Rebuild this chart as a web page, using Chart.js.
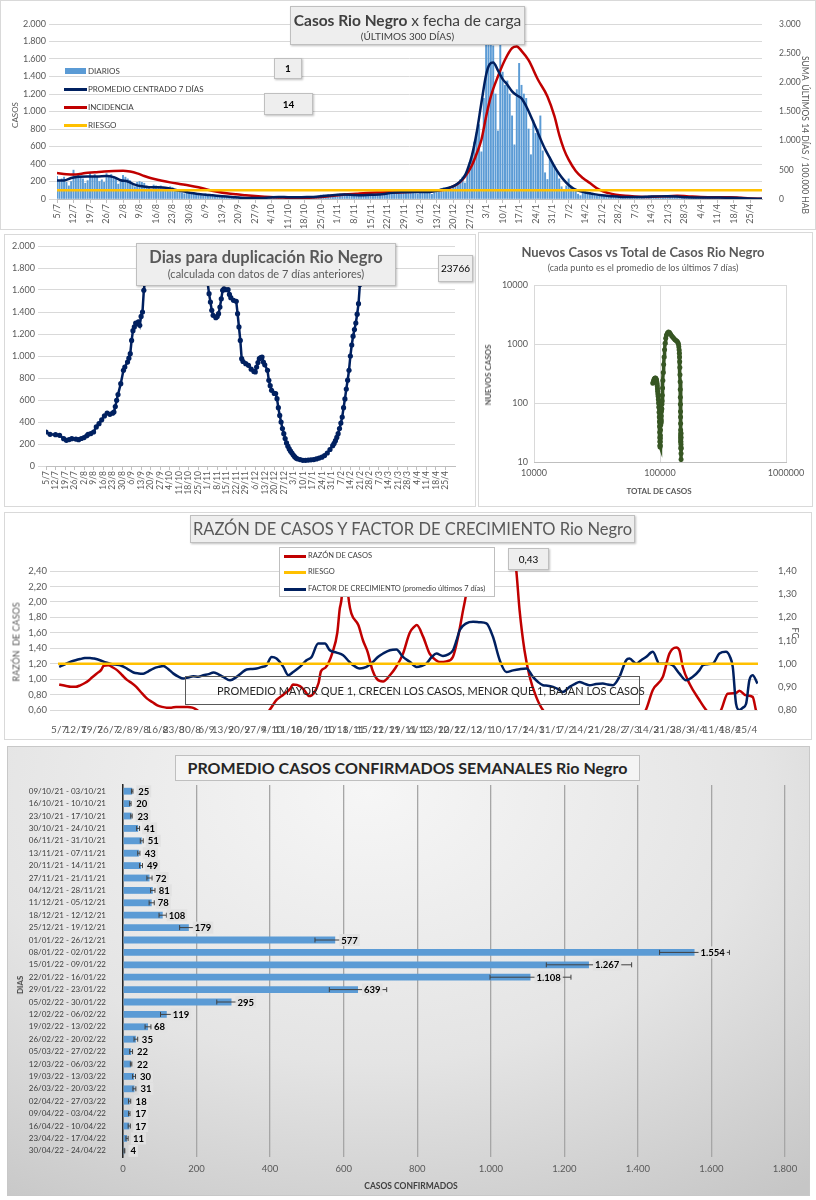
<!DOCTYPE html>
<html>
<head>
<meta charset="utf-8">
<script src="https://cdn.jsdelivr.net/npm/chart.js@4.4.1/dist/chart.umd.min.js"></script>
<style>
body{margin:0;background:#fff;font-family:Lato,"Liberation Sans",sans-serif;}
#page{position:relative;width:816px;height:1200px;overflow:hidden;}
canvas{position:absolute;}
.panel{position:absolute;border:1px solid #d9d9d9;box-sizing:border-box;}
.box{position:absolute;background:#eeeeee;border:1px solid #bfbfbf;box-sizing:border-box;text-align:center;color:#404040;box-shadow:1px 1px 2px rgba(0,0,0,.25);white-space:nowrap;overflow:hidden;}
.t{position:absolute;white-space:nowrap;}
.ctr{transform:translate(-50%,-50%);}
.vup{position:absolute;writing-mode:vertical-rl;white-space:nowrap;transform:translate(-50%,-50%) rotate(180deg);}
.vdown{position:absolute;writing-mode:vertical-rl;white-space:nowrap;transform:translate(-50%,-50%);}
.sw{position:absolute;height:3px;}
</style>
</head>
<body>
<div id="page">

<!-- panel 1 -->
<div class="panel" style="left:0;top:0;width:816px;height:230px;"></div>
<canvas id="c1" width="816" height="230" style="left:0;top:0"></canvas>
<div class="box" style="left:290px;top:6px;width:235px;height:39px;">
  <div style="font-size:15.5px;margin-top:4px;"><b>Casos Rio Negro</b> x fecha de carga</div>
  <div style="font-size:10px;margin-top:1px;">(ÚLTIMOS 300 DÍAS)</div>
</div>
<div class="box" style="left:274px;top:58px;width:28px;height:21px;font-size:10px;font-weight:bold;line-height:19px;color:#000">1</div>
<div class="box" style="left:264px;top:93px;width:49px;height:22px;font-size:10px;font-weight:bold;line-height:20px;color:#000">14</div>
<div class="sw" style="left:65px;top:68px;width:21px;height:6px;background:#5b9bd5"></div>
<div class="t" style="left:88px;top:66px;font-size:8px;color:#404040">DIARIOS</div>
<div class="sw" style="left:64px;top:88px;width:23px;background:#002060"></div>
<div class="t" style="left:88px;top:84px;font-size:8px;color:#404040">PROMEDIO CENTRADO 7 DÍAS</div>
<div class="sw" style="left:64px;top:106px;width:23px;background:#c00000"></div>
<div class="t" style="left:88px;top:102px;font-size:8px;color:#404040">INCIDENCIA</div>
<div class="sw" style="left:64px;top:124px;width:23px;background:#ffc000"></div>
<div class="t" style="left:88px;top:120px;font-size:8px;color:#404040">RIESGO</div>
<div class="vup" style="left:15px;top:115px;font-size:8px;color:#595959">CASOS</div>
<div class="vdown" style="left:805px;top:135px;font-size:8.5px;color:#595959">SUMA&nbsp; ÚLTIMOS 14 DÍAS / 100.000 HAB</div>

<!-- panel 2 -->
<div class="panel" style="left:4px;top:234px;width:472px;height:273px;"></div>
<canvas id="c2" width="478" height="275" style="left:0;top:232px"></canvas>
<div class="box" style="left:136px;top:243px;width:260px;height:43px;">
  <div style="font-size:16.5px;font-weight:bold;color:#595959;margin-top:3px;">Dias para duplicación Rio Negro</div>
  <div style="font-size:11px;color:#595959;">(calculada con datos de 7 días anteriores)</div>
</div>
<div class="box" style="left:438px;top:255px;width:35px;height:27px;font-size:10px;line-height:25px;color:#000">23766</div>

<!-- panel 3 -->
<div class="panel" style="left:478px;top:232px;width:335px;height:275px;"></div>
<canvas id="c3" width="338" height="275" style="left:478px;top:232px"></canvas>
<div class="t ctr" style="left:643px;top:252px;font-size:13px;font-weight:bold;color:#595959">Nuevos Casos vs Total de Casos Rio Negro</div>
<div class="t ctr" style="left:643px;top:267px;font-size:9px;color:#595959">(cada punto es el promedio de los últimos 7 días)</div>
<div class="vup" style="left:488px;top:375px;font-size:8px;font-weight:bold;color:#595959">NUEVOS CASOS</div>
<div class="t ctr" style="left:659px;top:491px;font-size:8px;font-weight:bold;color:#595959">TOTAL DE CASOS</div>

<!-- panel 4 -->
<div class="panel" style="left:4px;top:512px;width:808px;height:228px;"></div>
<canvas id="c4" width="816" height="228" style="left:0;top:512px"></canvas>
<div class="box" style="left:190px;top:515px;width:445px;height:28px;font-size:16.5px;line-height:26px;color:#595959">RAZÓN DE CASOS Y FACTOR DE CRECIMIENTO Rio Negro</div>
<div class="box" style="left:279px;top:547px;width:216px;height:50px;background:#fff;box-shadow:none;"></div>
<div class="sw" style="left:284px;top:555px;width:22px;background:#c00000"></div>
<div class="t" style="left:308px;top:551px;font-size:7.5px;color:#404040">RAZÓN DE CASOS</div>
<div class="sw" style="left:284px;top:571px;width:22px;background:#ffc000"></div>
<div class="t" style="left:308px;top:567px;font-size:7.5px;color:#404040">RIESGO</div>
<div class="sw" style="left:284px;top:588px;width:22px;background:#002060"></div>
<div class="t" style="left:308px;top:584px;font-size:7.5px;color:#404040">FACTOR DE CRECIMIENTO (promedio últimos 7 días)</div>
<div class="box" style="left:508px;top:548px;width:41px;height:22px;font-size:10px;line-height:20px;color:#000">0,43</div>
<div class="t" style="left:185px;top:676px;width:455px;height:29px;border:1px solid #595959;box-sizing:border-box;font-size:11px;line-height:27px;color:#262626;padding-left:31px;">PROMEDIO MAYOR QUE 1, CRECEN LOS CASOS, MENOR QUE 1, BAJAN LOS CASOS</div>
<div class="vup" style="left:16px;top:642px;font-size:9px;font-weight:normal;color:#595959">RAZÓN&nbsp; DE CASOS</div>
<div class="vdown" style="left:795px;top:633px;font-size:9px;color:#595959">FC</div>

<!-- panel 5 -->
<div class="panel" style="left:7px;top:746px;width:803px;height:450px;border-color:#c8c8c8;background:radial-gradient(ellipse 90% 110% at 45% 10%, #f6f6f6 0%, #e4e4e4 55%, #c6c6c6 100%);"></div>
<canvas id="c5" width="803" height="450" style="left:7px;top:746px"></canvas>
<div class="box" style="left:175px;top:755px;width:465px;height:26px;font-size:16px;font-weight:bold;line-height:24px;color:#262626;background:#f4f4f4;box-shadow:none">PROMEDIO CASOS CONFIRMADOS SEMANALES Rio Negro</div>
<div class="vup" style="left:20px;top:985px;font-size:8px;font-weight:bold;color:#404040">DIAS</div>
<div class="t ctr" style="left:411px;top:1186px;font-size:8.5px;font-weight:bold;color:#404040">CASOS CONFIRMADOS</div>

</div>
<script>
// etiquetas semanales del eje de fechas (dia 0 = 5/7)
var etiquetasSemana = ['5/7','12/7','19/7','26/7','2/8','9/8','16/8','23/8','30/8','6/9','13/9','20/9','27/9','4/10','11/10','18/10','25/10','1/11','8/11','15/11','22/11','29/11','6/12','13/12','20/12','27/12','3/1','10/1','17/1','24/1','31/1','7/2','14/2','21/2','28/2','7/3','14/3','21/3','28/3','4/4','11/4','18/4','25/4'];

// casos diarios (300 dias desde 5/7)
var casosDiarios = [
  260,210,230,250,190,150,200,330,260,270,
  250,230,180,210,300,260,280,250,200,220,
  190,290,270,280,260,230,170,200,270,250,
  230,210,170,140,190,200,190,180,150,120,
  110,160,150,140,150,130,100,90,140,130,
  110,100,90,70,60,90,80,75,70,60,
  55,40,35,60,55,50,45,40,30,25,
  35,35,30,28,25,18,15,25,22,20,
  20,18,12,10,18,20,18,16,15,12,
  15,28,30,28,30,25,19,
  12,22,24,22,20,24,16,
  15,25,26,24,28,25,18,
  25,45,48,44,50,42,33,
  35,55,58,56,60,52,41,
  30,45,48,46,50,47,35,
  35,52,55,54,58,50,39,
  50,78,80,82,85,70,59,
  60,88,90,92,95,80,62,
  58,85,88,90,92,80,53,
  70,100,110,120,130,125,101,
  110,140,160,190,220,250,183,
  300,420,520,650,760,850,539,
  1150,2050,1850,2100,1750,1200,778,
  2000,1450,1300,1350,1200,950,619,
  1250,1550,1300,1200,1150,800,506,
  900,750,800,950,550,300,223,
  480,420,380,320,230,140,95,
  150,230,140,120,100,55,38,
  90,85,80,75,65,45,36,
  45,42,40,38,35,25,20,
  30,28,25,24,22,14,11,
  28,27,26,25,24,14,10,
  38,36,34,33,32,20,17,
  40,38,35,34,32,22,16,
  24,22,21,20,18,12,9,
  22,21,20,19,18,11,8,
  23,20,20,18,17,12,9,
  15,14,13,12,11,7,5,
  8,6,5,4,3,1,1
];

// promedio centrado 7 dias [dia, casos]
var promedio7 = [[0,210],[3,212],[6,240],[9,255],[13,258],[17,256],[21,262],[24,250],[27,215],[30,200],[33,165],[36,145],[39,135],[42,133],[45,132],[48,118],[51,100],[54,85],[57,68],[60,58],[63,49],[66,42],[70,32],[74,24],[78,14],[82,12],[86,12],[90,18],[94,24],[98,21],[102,20],[106,22],[110,26],[114,38],[118,46],[122,52],[126,46],[130,44],[134,48],[138,55],[142,70],[146,78],[150,81],[154,79],[158,80],[161,95],[164,112],[167,135],[169,160],[171,200],[173,270],[174,330],[176,500],[178,760],[180,1100],[182,1420],[183.5,1540],[185,1560],[187,1470],[189,1370],[191,1306],[193,1230],[195,1185],[197,1150],[199,1060],[201,944],[203,820],[205,690],[207,570],[209,469],[211,370],[213,285],[215,215],[217,160],[219,120],[221,95],[224,75],[227,60],[231,42],[235,32],[239,24],[243,22],[247,22],[251,26],[255,30],[259,31],[263,28],[267,20],[271,18],[276,17],[281,17],[285,14],[289,11],[293,7],[297,4],[299,3]];

// incidencia: suma ultimos 14 dias / 100.000 hab [dia, valor]
var incidencia14 = [[0,446],[4,425],[8,420],[12,445],[16,458],[20,473],[24,482],[28,485],[31,470],[34,440],[37,395],[40,355],[44,318],[48,285],[52,258],[56,232],[60,200],[64,160],[68,125],[72,98],[76,80],[80,66],[84,52],[88,40],[92,30],[96,24],[99,16],[101,6],[103,14],[107,22],[112,34],[117,57],[122,78],[127,92],[131,103],[136,110],[141,114],[145,113],[150,122],[155,132],[160,145],[164,160],[168,216],[170,262],[172,331],[174,440],[176,580],[178,780],[180,1016],[182,1416],[184,1759],[187,2101],[190,2388],[193,2588],[195,2616],[197,2540],[200,2380],[204,2045],[208,1759],[211,1416],[213,1100],[215,850],[217,674],[220,480],[223,360],[226,274],[230,159],[234,100],[237,74],[241,55],[245,44],[251,36],[257,45],[263,55],[267,48],[273,34],[280,30],[285,32],[290,20],[294,10],[299,5]];
var riesgoIncidencia = 150;

// dias para duplicacion [dia, dias]
var diasDuplicacion = [[0,309],[3,288],[7,285],[10,279],[13,248],[15,233],[17,240],[19,248],[22,245],[24,239],[26,250],[28,258],[30,275],[31,288],[33,295],[35,309],[37,355],[39,385],[41,420],[43,455],[45,482],[47,470],[49,480],[50,491],[51,540],[52,597],[53,650],[55,748],[57,870],[58,900],[60,945],[61,980],[62,1021],[63,1142],[64,1230],[65,1264],[66,1300],[67,1294],[68,1310],[69,1279],[70,1360],[71,1400],[72,1597],[73,1700],[74,1839],[76,2600],[80,4000],[90,6000],[105,5000],[114,3000],[117,2200],[118,1800],[119,1660],[120,1567],[121,1491],[122,1415],[123,1370],[125,1348],[126,1360],[127,1385],[128,1445],[129,1520],[130,1597],[131,1610],[132,1603],[134,1603],[135,1560],[136,1530],[138,1506],[140,1497],[141,1385],[142,1264],[143,1142],[144,976],[145,950],[147,930],[149,915],[151,880],[153,860],[154,855],[155,900],[156,940],[157,976],[158,985],[159,991],[160,945],[161,920],[163,870],[164,779],[165,730],[166,688],[168,660],[169,658],[170,612],[171,530],[172,460],[173,400],[174,340],[175,294],[176,250],[177,210],[178,180],[179,155],[180,135],[181,118],[182,100],[183,85],[184,72],[185,65],[187,58],[189,52],[191,52],[193,54],[195,56],[197,58],[199,64],[201,72],[203,80],[205,95],[207,118],[209,150],[211,185],[212,205],[213,230],[214,260],[215,294],[216,340],[217,390],[218,445],[219,530],[220,610],[221,700],[222,780],[223,870],[224,1000],[225,1100],[226,1180],[227,1240],[228,1300],[229,1380],[230,1476],[231,1650],[232,1900],[233,2300],[236,4000],[250,9000],[270,15000],[299,23766]];

// nuevos casos vs total de casos
var totalCasos = [87700,88300,89000,89700,90400,91100,91800,92500,93200,93800,94300,94700,95100,95500,95900,96300,96700,97100,97500,97900,98300,98700,99000,99300,99500,99700,99850,100000,100100,100250,100400,100550,100700,100900,101100,101300,101500,101700,101900,102100,102350,102600,102850,103100,103350,103600,103900,104300,104800,105400,106100,106900,107800,108700,109800,111000,112500,114500,116700,119000,121500,124000,126500,129000,131500,134000,136500,138500,140000,141000,141800,142400,142900,143300,143700,144100,144500,144800,145050,145250,145450,145600,145750,145850,145950,146050,146150,146250,146350,146450,146550,146650,146700,146760,146820,146880,146930,146970];
var nuevosCasos = [217,225,238,250,258,262,265,262,255,245,230,215,195,175,158,142,130,115,100,85,70,58,48,40,32,26,22,19,18,19,22,25,28,35,42,50,48,45,48,52,60,72,80,80,79,95,108,135,179,240,330,450,600,800,1025,1250,1420,1540,1600,1560,1470,1370,1300,1240,1180,1150,1110,1060,1000,900,800,700,600,500,400,300,230,170,125,95,72,58,45,35,28,24,22,22,26,30,31,26,20,18,17,17,14,11];
var ticksTotal = [10000, 100000, 1000000];
var ticksNuevos = [10, 100, 1000, 10000];

// razon de casos y factor de crecimiento [dia, valor]
var razonCasos = [[0,0.93],[3,0.91],[5,0.90],[7,0.90],[9,0.92],[11,0.95],[12.5,0.98],[14,1.02],[16,1.07],[18,1.12],[19,1.17],[21,1.18],[23,1.15],[25,1.11],[27,1.05],[29,0.99],[31,0.95],[33,0.90],[35,0.83],[37.5,0.75],[40,0.70],[42,0.66],[44,0.64],[46,0.63],[48,0.63],[50,0.64],[52,0.64],[55,0.64],[57,0.63],[59,0.60],[62,0.52],[70,0.45],[80,0.48],[88,0.55],[90,0.60],[93,0.73],[96,0.80],[99,0.88],[100,0.93],[103,0.91],[105,0.85],[107,0.78],[109,0.82],[111,0.95],[112,1.10],[114,1.15],[117,1.35],[119,1.60],[120,1.90],[121,2.10],[122,2.8],[123,2.3],[124,2.0],[125,1.85],[128,1.70],[130,1.50],[132,1.35],[134,1.12],[136,1.00],[138.6,0.97],[141.5,1.05],[144,1.15],[147,1.32],[150,1.6],[152,1.68],[153,1.70],[155.7,1.55],[158.5,1.33],[161.4,1.24],[162.8,1.22],[165.7,1.23],[168.5,1.29],[170.7,1.55],[172.8,1.89],[174.2,2.11],[175.6,2.4],[180,3.5],[186,4.0],[192,3.2],[195.6,2.4],[197,1.89],[199.1,1.37],[201.3,1.03],[204.1,0.77],[207,0.60],[212,0.5],[230,0.45],[248,0.5],[251,0.6],[254,0.86],[258.3,1.03],[261.1,1.33],[264,1.41],[265.4,1.37],[266.8,1.16],[269.7,0.94],[273.9,0.73],[276.8,0.60],[280,0.5],[283.2,0.6],[286,0.81],[289.6,0.82],[291,0.85],[293.9,0.79],[296.7,0.77],[298.1,0.6],[299,0.5]];
var factorCrecimiento = [[0,0.986],[2,0.995],[4.7,1.008],[7,1.015],[9,1.02],[11,1.024],[13.2,1.025],[15,1.022],[17.5,1.015],[20,1.005],[21.8,1.0],[24,0.996],[26.1,0.993],[29,0.979],[31.8,0.962],[34,0.958],[36,0.957],[38,0.966],[40.3,0.979],[42.5,0.986],[44.6,0.99],[46.5,0.978],[48.9,0.957],[51,0.944],[53.1,0.936],[55,0.94],[57.4,0.946],[59.5,0.944],[61.7,0.95],[64,0.955],[66,0.962],[68,0.955],[70.2,0.943],[73.1,0.928],[75.9,0.943],[78,0.96],[80.2,0.975],[82.5,0.977],[84.5,0.979],[86.5,0.985],[88.7,0.993],[90.9,1.029],[93,1.022],[95.9,0.986],[98,0.95],[100.1,0.964],[103,0.986],[105.8,1.015],[108,1.029],[110.8,1.087],[113.7,1.087],[115.8,1.058],[118.7,1.048],[121.5,1.036],[124,1.01],[125.8,0.993],[128.6,0.979],[131.5,0.986],[134.3,1.008],[136.5,1.03],[138.6,1.044],[141.5,1.058],[144.3,1.061],[147.1,1.029],[150,1.008],[152.9,0.986],[155,0.99],[157.1,1.0],[159.5,1.03],[161.4,1.044],[164.2,1.033],[166.5,1.04],[168.5,1.058],[170,1.1],[171.4,1.145],[174.2,1.174],[177.1,1.181],[180,1.179],[182.8,1.174],[185.6,1.116],[188.5,1.015],[191.3,0.964],[194.2,0.971],[197,0.976],[199.9,0.979],[202.7,0.943],[205,0.92],[207,0.907],[209,0.905],[211.3,0.9],[213.5,0.89],[215.5,0.878],[218.4,0.9],[220.5,0.912],[222.6,0.921],[224.7,0.914],[226.9,0.907],[229.7,0.912],[232.6,0.914],[234.7,0.91],[236.9,0.907],[239.7,0.943],[242.6,1.015],[244,1.022],[246.9,1.0],[249,1.015],[251.1,1.029],[254,1.051],[256.8,1.0],[259.7,1.0],[262.5,0.993],[265.4,0.957],[268.2,0.928],[271.1,0.943],[273.9,0.971],[275.4,0.993],[277.5,0.998],[279.6,1.0],[282.5,1.044],[285.3,1.051],[287,1.03],[288.2,0.986],[289.6,0.827],[291,0.8],[292.5,0.81],[293.9,0.827],[295.3,0.928],[296.7,0.95],[298.8,0.914]];
var riesgoRazon = 1.2;

// promedio semanal de casos confirmados
var semanas = ['09/10/21 - 03/10/21','16/10/21 - 10/10/21','23/10/21 - 17/10/21','30/10/21 - 24/10/21','06/11/21 - 31/10/21','13/11/21 - 07/11/21','20/11/21 - 14/11/21','27/11/21 - 21/11/21','04/12/21 - 28/11/21','11/12/21 - 05/12/21','18/12/21 - 12/12/21','25/12/21 - 19/12/21','01/01/22 - 26/12/21','08/01/22 - 02/01/22','15/01/22 - 09/01/22','22/01/22 - 16/01/22','29/01/22 - 23/01/22','05/02/22 - 30/01/22','12/02/22 - 06/02/22','19/02/22 - 13/02/22','26/02/22 - 20/02/22','05/03/22 - 27/02/22','12/03/22 - 06/03/22','19/03/22 - 13/03/22','26/03/22 - 20/03/22','02/04/22 - 27/03/22','09/04/22 - 03/04/22','16/04/22 - 10/04/22','23/04/22 - 17/04/22','30/04/22 - 24/04/22'];
var promedioSemanal = [25,20,23,41,51,43,49,72,81,78,108,179,577,1554,1267,1108,639,295,119,68,35,22,22,30,31,18,17,17,11,4];
var errorSemanal = [2,2,2,4,4,3,4,7,6,7,10,25,55,95,116,110,78,40,17,8,5,4,2,4,4,3,2,3,3,1];

function fmtMiles(v) {
  return String(v).replace(/\B(?=(\d{3})+(?!\d))/g, '.');
}
function fmtDec(v) {
  return v.toFixed(2).replace('.', ',');
}
function pares(arr) {
  return arr.map(function (p) { return {x: p[0], y: p[1]}; });
}

Chart.defaults.font.family = 'Lato, "Liberation Sans", sans-serif';
Chart.defaults.color = '#595959';
Chart.defaults.animation = false;
Chart.defaults.plugins.legend.display = false;
Chart.defaults.plugins.tooltip.enabled = false;

// 1) casos diarios, promedio e incidencia
new Chart(document.getElementById('c1'), {
  type: 'bar',
  data: {
    datasets: [
      {type: 'line', data: [{x: 0, y: riesgoIncidencia}, {x: 299, y: riesgoIncidencia}], yAxisID: 'y1',
       borderColor: '#ffc000', borderWidth: 2.5, pointRadius: 0, order: 1},
      {type: 'line', data: pares(promedio7), borderColor: '#002060', borderWidth: 2.5, pointRadius: 0,
       cubicInterpolationMode: 'monotone', order: 2},
      {type: 'line', data: pares(incidencia14), yAxisID: 'y1', borderColor: '#c00000', borderWidth: 2.5,
       pointRadius: 0, cubicInterpolationMode: 'monotone', order: 3},
      {type: 'bar', data: casosDiarios.map(function (v, i) { return {x: i, y: v}; }),
       backgroundColor: '#5b9bd5', barThickness: 1.3, order: 4}
    ]
  },
  options: {
    responsive: false,
    layout: {padding: {top: 24, right: 0, left: 0, bottom: 0}},
    scales: {
      x: {type: 'linear', min: 0, max: 299, offset: false,
          grid: {offset: false, drawOnChartArea: false, tickLength: 4, color: '#bfbfbf'},
          border: {color: '#bfbfbf'},
          ticks: {stepSize: 7, includeBounds: false, autoSkip: false, minRotation: 90, maxRotation: 90,
                  padding: 1, font: {size: 9}, callback: function (v) { return etiquetasSemana[v / 7]; }},
          afterFit: function (s) { s.height = 31; }},
      y: {min: 0, max: 2000, ticks: {stepSize: 200, font: {size: 9}, callback: fmtMiles},
          grid: {color: '#d9d9d9'}, border: {display: false},
          afterFit: function (s) { s.width = 57; }},
      y1: {position: 'right', min: 0, max: 3000, ticks: {stepSize: 500, font: {size: 8.5}, padding: 9, callback: fmtMiles},
           grid: {display: false}, border: {display: false},
           afterFit: function (s) { s.width = 54; }}
    }
  }
});

// 2) dias para duplicacion
new Chart(document.getElementById('c2'), {
  type: 'line',
  data: {
    datasets: [
      {data: pares(diasDuplicacion), borderColor: '#002060', backgroundColor: '#002060', borderWidth: 2.5,
       pointRadius: 2.6, pointBorderWidth: 0}
    ]
  },
  options: {
    responsive: false,
    layout: {padding: {top: 14, right: 23, left: 0, bottom: 0}},
    scales: {
      x: {type: 'linear', min: 0, max: 301,
          grid: {drawOnChartArea: false, tickLength: 4, color: '#bfbfbf'}, border: {color: '#bfbfbf'},
          ticks: {stepSize: 7, includeBounds: false, autoSkip: false, minRotation: 90, maxRotation: 90,
                  padding: 1, font: {size: 8.5}, callback: function (v) { return etiquetasSemana[v / 7]; }},
          afterFit: function (s) { s.height = 41; }},
      y: {min: 0, max: 2000, ticks: {stepSize: 200, font: {size: 9}, callback: fmtMiles},
          grid: {color: '#d9d9d9'}, border: {display: false},
          afterFit: function (s) { s.width = 46; }}
    }
  }
});

// 3) nuevos casos vs total de casos (log-log)
new Chart(document.getElementById('c3'), {
  type: 'scatter',
  data: {
    datasets: [
      {data: totalCasos.map(function (t, i) { return {x: t, y: nuevosCasos[i]}; }),
       showLine: true, borderColor: '#375623', backgroundColor: '#375623', borderWidth: 3.5,
       pointRadius: 2.5, pointBorderWidth: 0}
    ]
  },
  options: {
    responsive: false,
    layout: {padding: {top: 53, right: 30, left: 0, bottom: 0}},
    scales: {
      x: {type: 'logarithmic', min: 10000, max: 1000000,
          afterBuildTicks: function (s) { s.ticks = ticksTotal.map(function (v) { return {value: v}; }); },
          ticks: {font: {size: 9}, padding: 6, callback: function (v) { return String(v); }},
          grid: {color: '#d9d9d9', drawTicks: false}, border: {color: '#bfbfbf'},
          afterFit: function (s) { s.height = 45; }},
      y: {type: 'logarithmic', min: 10, max: 10000,
          afterBuildTicks: function (s) { s.ticks = ticksNuevos.map(function (v) { return {value: v}; }); },
          ticks: {font: {size: 9}, padding: 6, callback: function (v) { return String(v); }},
          grid: {color: '#d9d9d9', drawTicks: false}, border: {display: false},
          afterFit: function (s) { s.width = 56; }}
    }
  }
});

// 4) razon de casos y factor de crecimiento
new Chart(document.getElementById('c4'), {
  type: 'line',
  data: {
    datasets: [
      {data: [{x: -0.5, y: riesgoRazon}, {x: 299, y: riesgoRazon}], borderColor: '#ffc000', borderWidth: 2.5, pointRadius: 0, order: 1},
      {data: pares(factorCrecimiento), yAxisID: 'y1', borderColor: '#002060', borderWidth: 2.5, pointRadius: 0,
       cubicInterpolationMode: 'monotone', order: 2},
      {data: pares(razonCasos), borderColor: '#c00000', borderWidth: 2.5, pointRadius: 0,
       cubicInterpolationMode: 'monotone', order: 3}
    ]
  },
  options: {
    responsive: false,
    layout: {padding: {top: 59, right: 0, left: 0, bottom: 0}},
    scales: {
      x: {type: 'linear', min: -0.5, max: 299,
          grid: {display: false}, border: {display: false},
          ticks: {stepSize: 7, includeBounds: false, autoSkip: false, minRotation: 0, maxRotation: 0,
                  padding: 6, font: {size: 10}, callback: function (v) { return etiquetasSemana[v / 7]; }},
          afterFit: function (s) { s.height = 30; }},
      y: {min: 0.6, max: 2.4, ticks: {stepSize: 0.2, font: {size: 9.5}, callback: fmtDec},
          grid: {color: '#d9d9d9'}, border: {display: false},
          afterFit: function (s) { s.width = 58; }},
      y1: {position: 'right', min: 0.8, max: 1.4, ticks: {stepSize: 0.1, font: {size: 9.5}, padding: 12, callback: fmtDec},
           grid: {display: false}, border: {display: false},
           afterFit: function (s) { s.width = 58; }}
    }
  }
});

// 5) promedio semanal con barras de error y etiquetas
var barrasError = {
  id: 'barrasError',
  afterDatasetsDraw: function (chart) {
    var ctx = chart.ctx, xs = chart.scales.x, meta = chart.getDatasetMeta(0);
    ctx.save();
    meta.data.forEach(function (bar, i) {
      var v = promedioSemanal[i], e = errorSemanal[i], y = bar.y;
      var x0 = xs.getPixelForValue(v - e), x1 = xs.getPixelForValue(v + e);
      ctx.strokeStyle = '#404040';
      ctx.lineWidth = 1;
      ctx.beginPath();
      ctx.moveTo(x0, y); ctx.lineTo(x1, y);
      ctx.moveTo(x0, y - 2.5); ctx.lineTo(x0, y + 2.5);
      ctx.moveTo(x1, y - 2.5); ctx.lineTo(x1, y + 2.5);
      ctx.stroke();
      var txt = fmtMiles(v);
      ctx.font = 'bold 9.5px Lato, "Liberation Sans", sans-serif';
      var w = ctx.measureText(txt).width, lx = bar.x + 6;
      ctx.fillStyle = 'rgba(226,226,226,0.95)';
      ctx.fillRect(lx - 2, y - 6, w + 4, 12);
      ctx.fillStyle = '#000';
      ctx.textBaseline = 'middle';
      ctx.fillText(txt, lx, y + 0.5);
    });
    ctx.restore();
  }
};

new Chart(document.getElementById('c5'), {
  type: 'bar',
  data: {
    labels: semanas,
    datasets: [{data: promedioSemanal, backgroundColor: '#5b9bd5', barPercentage: 0.55, categoryPercentage: 1}]
  },
  options: {
    indexAxis: 'y',
    responsive: false,
    layout: {padding: {top: 39, right: 25, left: 0, bottom: 0}},
    scales: {
      x: {min: 0, max: 1800, ticks: {stepSize: 200, font: {size: 9.5}, padding: 6, callback: fmtMiles},
          grid: {color: '#a6a6a6', lineWidth: 1.3, drawTicks: false}, border: {display: false},
          afterFit: function (s) { s.height = 39; }},
      y: {ticks: {font: {size: 8}, color: '#404040', padding: 9, autoSkip: false},
          grid: {display: false}, border: {color: '#262626', width: 1.5},
          afterFit: function (s) { s.width = 116; }}
    }
  },
  plugins: [barrasError]
});
</script>
</body>
</html>
